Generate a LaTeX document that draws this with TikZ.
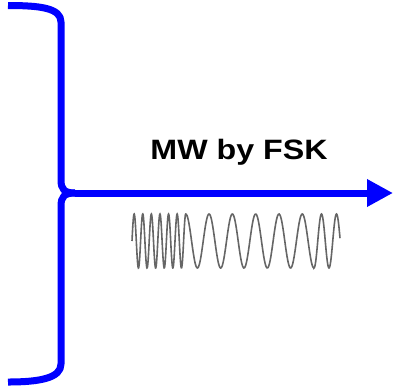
\documentclass[tikz,border=0pt]{standalone}
\usepackage{fontspec}
\setmainfont{Liberation Sans}
\usetikzlibrary{arrows.meta}
\definecolor{braceblue}{rgb}{0,0,1}
\definecolor{wavegray}{rgb}{0.4,0.4,0.4}
\tikzset{
    brace/.style={line width=7pt, draw=braceblue, line cap=butt, line join=round}, % the curly brace
    carrier/.style={brace, -{Triangle[length=26pt, width=26pt]}}, % output arrow
    wave/.style={draw=wavegray, line width=1.6pt}, % FSK signal
}

\begin{document}
\begin{tikzpicture}[x=1pt, y=-1pt]
  \useasboundingbox (0,0) rectangle (395,391);

  \coordinate (top) at (8,5.5);
  \coordinate (mid) at (75,193);
  \coordinate (bottom) at (8,382);
  \coordinate (tip) at (393,193);

  % upper half of the brace
  \draw[brace] (top) .. controls (40,5.5) and (61,8) .. (61,22)
    -- (61,180) .. controls (61,189) and (64,193) .. (mid);
  % lower half of the brace
  \draw[brace] (mid) .. controls (64,193) and (61,197) .. (61,206)
    -- (61,364) .. controls (61,378) and (40,382) .. (bottom);

  % arrow to the right
  \draw[carrier] (mid) -- (tip);

  \node[anchor=base, font=\bfseries\fontsize{28}{30}\selectfont, xscale=1.15] (label) at (239,159) {MW by FSK};

  % frequency shift keyed wave
  \draw[wave] plot[domain=132:185.75, samples=220, smooth] (\x, {241 - 27*sin((\x-132)*41.86)})
    -- plot[domain=185.75:314, samples=200, smooth] (\x, {241 - 27*cos((\x-185.75)*15.45)})
    -- plot[domain=314:340, samples=60, smooth] (\x, {241 + 27*cos((\x-314)*24)});
\end{tikzpicture}
\end{document}
